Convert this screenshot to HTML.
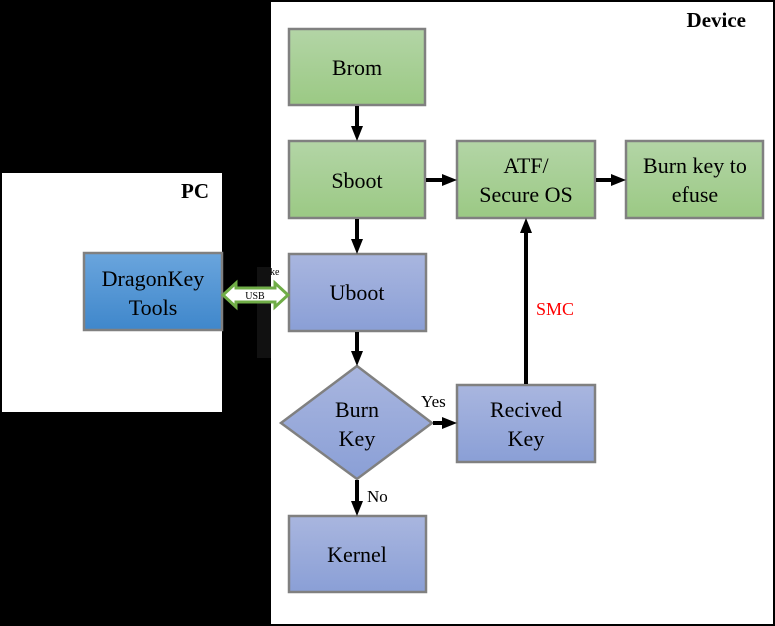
<!DOCTYPE html>
<html><head><style>
html,body{margin:0;padding:0;background:#000;}
svg{display:block;}
text{font-family:"Liberation Serif","Times New Roman",serif;}
</style></head><body>
<svg width="775" height="626" viewBox="0 0 775 626" xmlns="http://www.w3.org/2000/svg">
<defs>
<linearGradient id="g" x1="0" y1="0" x2="0" y2="1"><stop offset="0" stop-color="#b3d5a6"/><stop offset="1" stop-color="#9bc984"/></linearGradient>
<linearGradient id="b" x1="0" y1="0" x2="0" y2="1"><stop offset="0" stop-color="#a9b6df"/><stop offset="1" stop-color="#8a9fd6"/></linearGradient>
<linearGradient id="d" x1="0" y1="0" x2="0" y2="1"><stop offset="0" stop-color="#6aa5dd"/><stop offset="1" stop-color="#3f87cb"/></linearGradient>
</defs>
<rect x="0" y="0" width="775" height="626" fill="#000"/>
<rect x="271" y="2" width="502" height="622" fill="#fff"/>
<rect x="2" y="173" width="220" height="239" fill="#fff"/>
<rect x="257" y="267" width="14" height="91" fill="#111"/>
<text x="746" y="27" font-size="21" font-weight="bold" text-anchor="end">Device</text>
<text x="209" y="198" font-size="21" font-weight="bold" text-anchor="end">PC</text>
<g stroke="#808080" stroke-width="2.5">
<rect x="289" y="29" width="136" height="76" fill="url(#g)"/>
<rect x="289" y="141" width="136" height="77" fill="url(#g)"/>
<rect x="457" y="141" width="138" height="77" fill="url(#g)"/>
<rect x="626" y="141" width="137" height="77" fill="url(#g)"/>
<rect x="289" y="254" width="137" height="77" fill="url(#b)"/>
<polygon points="357,366 432,423 357,479 281,423" fill="url(#b)"/>
<rect x="457" y="385" width="138" height="77" fill="url(#b)"/>
<rect x="289" y="516" width="137" height="76" fill="url(#b)"/>
<rect x="84" y="253" width="138" height="77" fill="url(#d)"/>
</g>
<g stroke="#000" stroke-width="4" fill="none">
<line x1="357" y1="106" x2="357" y2="128"/>
<line x1="357" y1="219" x2="357" y2="241"/>
<line x1="357" y1="332" x2="357" y2="353"/>
<line x1="357" y1="480" x2="357" y2="503"/>
<line x1="426" y1="180" x2="444" y2="180"/>
<line x1="596" y1="180" x2="613" y2="180"/>
<line x1="433" y1="423" x2="444" y2="423"/>
<line x1="526" y1="384" x2="526" y2="231"/>
</g>
<g fill="#000">
<polygon points="351,126 363,126 357,141"/>
<polygon points="351,239 363,239 357,254"/>
<polygon points="351,351 363,351 357,366"/>
<polygon points="351,501 363,501 357,516"/>
<polygon points="442,174 442,186 457,180"/>
<polygon points="611,174 611,186 626,180"/>
<polygon points="442,417 442,429 457,423"/>
<polygon points="520,233 532,233 526,218"/>
</g>
<polygon points="223,295 236,283 236,288 275,288 275,283 288,295 275,307 275,302 236,302 236,307" fill="#fff" stroke="#70ad47" stroke-width="3"/>
<text x="255" y="299" font-size="10" text-anchor="middle">USB</text>
<text x="270" y="275" font-size="10">ke</text>
<g font-size="22" text-anchor="middle">
<text x="357" y="75">Brom</text>
<text x="357" y="188">Sboot</text>
<text x="526" y="173">ATF/</text>
<text x="526" y="202">Secure OS</text>
<text x="695" y="173">Burn key to</text>
<text x="695" y="202">efuse</text>
<text x="357" y="300">Uboot</text>
<text x="357" y="417">Burn</text>
<text x="357" y="446">Key</text>
<text x="526" y="417">Recived</text>
<text x="526" y="446">Key</text>
<text x="357" y="562">Kernel</text>
<text x="153" y="286">DragonKey</text>
<text x="153" y="315">Tools</text>
</g>
<text x="421" y="407" font-size="17">Yes</text>
<text x="367" y="502" font-size="17">No</text>
<text x="536" y="315" font-size="18" fill="#ff0000">SMC</text>
</svg>
</body></html>
